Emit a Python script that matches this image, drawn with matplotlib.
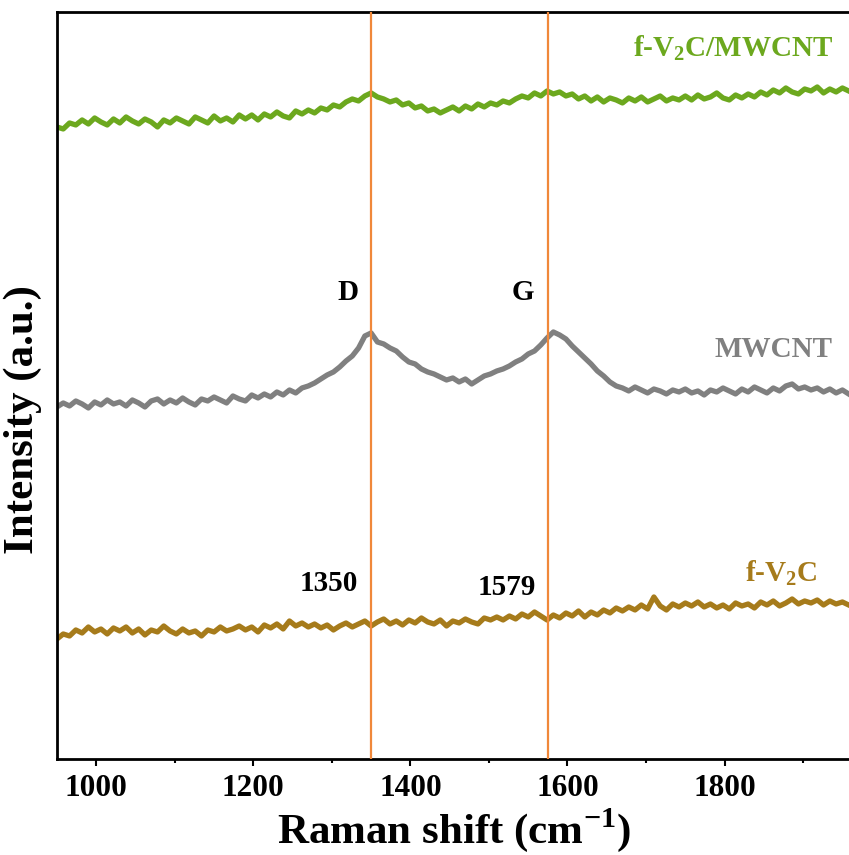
import numpy as np
import matplotlib
matplotlib.use("Agg")
import matplotlib.pyplot as plt
from matplotlib.ticker import MultipleLocator

plt.rcParams["font.family"] = ["Liberation Serif", "DejaVu Serif"]
plt.rcParams["font.weight"] = "bold"
plt.rcParams["mathtext.fontset"] = "custom"
plt.rcParams["mathtext.rm"] = "Liberation Serif:bold"
plt.rcParams["mathtext.bf"] = "Liberation Serif:bold"

# Raman shift grid (cm-1), one sample every 8 cm-1
shift = np.arange(950, 1959, 8)

# intensities (a.u.)
v2c_mwcnt = [
    633, 631, 637, 635, 640, 636, 642, 638, 635, 641,
    637, 643, 639, 636, 641, 638, 633, 640, 637, 642,
    639, 636, 643, 640, 637, 644, 639, 642, 638, 645,
    641, 645, 640, 646, 643, 648, 644, 642, 649, 646,
    650, 647, 652, 650, 655, 653, 658, 661, 659, 664,
    667, 663, 661, 658, 660, 655, 657, 652, 654, 649,
    651, 647, 650, 653, 649, 654, 651, 656, 653, 657,
    655, 659, 657, 661, 664, 662, 667, 664, 669, 666,
    668, 664, 666, 661, 664, 659, 663, 658, 662, 660,
    657, 662, 659, 663, 658, 661, 664, 659, 662, 660,
    664, 660, 665, 661, 663, 667, 662, 660, 665, 662,
    666, 663, 668, 665, 670, 667, 672, 668, 666, 671,
    669, 673, 667, 671, 668, 672, 669,
]
mwcnt = [
    353, 357, 354, 359, 356, 352, 358, 355, 360, 356,
    358, 354, 360, 357, 353, 359, 361, 356, 360, 357,
    362, 358, 355, 361, 359, 363, 360, 357, 364, 361,
    359, 365, 362, 366, 363, 368, 365, 370, 367, 372,
    374, 377, 381, 385, 388, 393, 399, 404, 412, 424,
    427, 418, 416, 412, 409, 403, 398, 396, 391, 388,
    386, 383, 380, 382, 378, 381, 376, 380, 384, 386,
    389, 391, 394, 398, 401, 406, 409, 415, 422, 428,
    425, 421, 414, 408, 402, 396, 389, 384, 378, 374,
    372, 369, 373, 370, 367, 371, 369, 366, 370, 368,
    371, 367, 369, 365, 370, 368, 372, 369, 366, 371,
    368, 373, 370, 367, 372, 369, 374, 376, 371, 373,
    370, 372, 368, 371, 367, 370, 366,
]
v2c = [
    121, 126, 124, 130, 127, 133, 128, 131, 126, 132,
    129, 133, 127, 131, 125, 130, 128, 134, 129, 126,
    131, 127, 129, 124, 130, 128, 133, 129, 131, 134,
    130, 133, 128, 135, 132, 136, 131, 139, 134, 137,
    133, 136, 132, 135, 130, 134, 137, 133, 136, 139,
    134, 138, 141, 136, 139, 135, 140, 137, 142, 138,
    136, 140, 134, 139, 137, 141, 138, 136, 142, 140,
    143, 140, 144, 141, 146, 143, 148, 144, 140, 145,
    142, 147, 144, 149, 143, 148, 145, 150, 147, 152,
    149, 153, 150, 155, 151, 163, 154, 150, 156, 153,
    157, 154, 158, 153, 156, 152, 155, 151, 157, 154,
    156, 152, 158, 155, 159, 154, 157, 161, 156, 159,
    157, 160, 155, 159, 156, 158, 155,
]

band_pos = [1350, 1575]
band_names = ["D", "G"]
band_values = ["1350", "1579"]

green = "#6ca81e"
grey = "#808080"
brown = "#a67b1b"
orange = "#f0883a"

fig = plt.figure(figsize=(8.49, 8.55), dpi=100)
ax = fig.add_axes([0.0671, 0.1123, 0.9353, 0.8737])

for ys, c in [(v2c_mwcnt, green), (mwcnt, grey), (v2c, brown)]:
    ax.plot(shift, ys, color=c, lw=3.8, solid_joinstyle="round")
for p in band_pos:
    ax.axvline(p, color=orange, lw=1.6, zorder=3)

ax.set_xlim(950, 1961)
ax.set_ylim(1, 748)

txt = dict(fontsize=21, fontweight="bold")
ax.text(1938, 712, r"f-V$_\mathbf{2}$C/MWCNT", color=green, ha="right", va="center", **txt)
ax.text(1938, 410, "MWCNT", color=grey, ha="right", va="center", **txt)
ax.text(1918, 187, r"f-V$_\mathbf{2}$C", color=brown, ha="right", va="center", **txt)
ax.text(1320, 467, band_names[0], ha="center", va="center", **txt)
ax.text(1543, 467, band_names[1], ha="center", va="center", **txt)
ax.text(1296, 176, band_values[0], ha="center", va="center", **txt)
ax.text(1523, 172, band_values[1], ha="center", va="center", **txt)

ax.xaxis.set_major_locator(MultipleLocator(200))
ax.xaxis.set_minor_locator(MultipleLocator(100))
ax.tick_params(axis="x", which="major", direction="out", length=5, width=1.5, labelsize=22.5, pad=6)
ax.tick_params(axis="x", which="minor", direction="out", length=3, width=1.5)
ax.set_yticks([])
for s in ax.spines.values():
    s.set_linewidth(2)

ax.set_xlabel(r"Raman shift (cm$^\mathbf{-1}$)", fontsize=31, fontweight="bold", labelpad=2)
ax.set_ylabel("Intensity (a.u.)", fontsize=31, fontweight="bold")
ax.yaxis.set_label_coords(-0.019, 0.454)

fig.savefig("out.png", dpi=100)
